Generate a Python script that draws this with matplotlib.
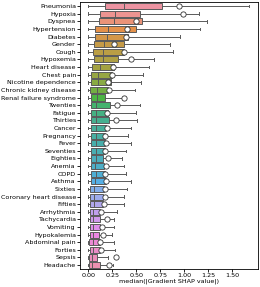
import numpy as np
import matplotlib
matplotlib.use("Agg")
import matplotlib.pyplot as plt
import seaborn as sns

# features, top to bottom
features = ["Pneumonia", "Hypoxia", "Dyspnea", "Hypertension", "Diabetes", "Gender",
            "Cough", "Hypoxemia", "Heart disease", "Chest pain", "Nicotine dependence",
            "Chronic kidney disease", "Renal failure syndrome", "Twenties", "Fatigue",
            "Thirties", "Cancer", "Pregnancy", "Fever", "Seventies", "Eighties", "Anemia",
            "COPD", "Asthma", "Sixties", "Coronary heart disease", "Fifties", "Arrhythmia",
            "Tachycardia", "Vomiting", "Hypokalemia", "Abdominal pain", "Forties", "Sepsis",
            "Headache"]

# box stats
whislo = [0.0, 0.0, 0.0, 0.0, 0.0, 0.0, 0.0, 0.0, 0.0, 0.0, 0.0, 0.0, 0.0, 0.0, 0.0,
          0.0, 0.0, 0.0, 0.0, 0.0, 0.0, 0.0, 0.0, 0.0, 0.0, 0.0, 0.0, 0.0, 0.0, 0.0,
          0.0, 0.0, 0.0, 0.0, 0.0]
q1 = [0.17, 0.125, 0.11, 0.066, 0.066, 0.055, 0.052, 0.062, 0.042, 0.031, 0.031, 0.02,
      0.028, 0.028, 0.024, 0.024, 0.024, 0.024, 0.024, 0.024, 0.028, 0.024, 0.024, 0.024,
      0.014, 0.014, 0.014, 0.014, 0.014, 0.014, 0.014, 0.01, 0.014, 0.01, 0.01]
med = [0.375, 0.28, 0.265, 0.205, 0.195, 0.163, 0.15, 0.15, 0.118, 0.10, 0.10, 0.09,
       0.09, 0.083, 0.08, 0.08, 0.08, 0.08, 0.08, 0.076, 0.076, 0.07, 0.076, 0.066,
       0.063, 0.055, 0.055, 0.05, 0.05, 0.05, 0.05, 0.045, 0.045, 0.04, 0.04]
q3 = [0.77, 0.535, 0.56, 0.50, 0.42, 0.37, 0.375, 0.31, 0.27, 0.243, 0.24, 0.21,
      0.17, 0.23, 0.21, 0.215, 0.187, 0.177, 0.18, 0.17, 0.153, 0.16, 0.17, 0.187,
      0.16, 0.153, 0.153, 0.125, 0.118, 0.118, 0.11, 0.118, 0.125, 0.09, 0.118]
whishi = [1.68, 1.16, 1.24, 1.17, 0.96, 0.85, 0.88, 0.69, 0.63, 0.57, 0.555, 0.49,
          0.36, 0.535, 0.50, 0.51, 0.445, 0.41, 0.445, 0.39, 0.35, 0.37, 0.39, 0.45,
          0.40, 0.375, 0.375, 0.30, 0.27, 0.27, 0.25, 0.27, 0.28, 0.21, 0.26]
mean = [0.95, 0.99, 0.50, 0.406, 0.39, 0.27, 0.375, 0.45, 0.257, 0.25, 0.208, 0.22,
        0.368, 0.30, 0.195, 0.29, 0.195, 0.18, 0.187, 0.175, 0.21, 0.19, 0.18, 0.187,
        0.17, 0.18, 0.16, 0.135, 0.195, 0.142, 0.153, 0.118, 0.13, 0.29, 0.215]

stats = []
for i in range(len(features)):
    stats.append(dict(label=features[i], whislo=whislo[i], q1=q1[i], med=med[i],
                      q3=q3[i], whishi=whishi[i], mean=mean[i], fliers=[]))

colors = sns.color_palette(sns.husl_palette(len(features), l=0.7), desat=0.8)
gray = "#5a5a5a"

fig = plt.figure(figsize=(2.6, 2.87), dpi=100)
ax = fig.add_axes([0.308, 0.063, 0.684, 0.929])

pos = np.arange(len(features))
bp = ax.bxp(stats, positions=pos, vert=False, widths=0.8, patch_artist=True,
            showmeans=True, showfliers=False, capwidths=0.35,
            boxprops=dict(edgecolor=gray, linewidth=0.7),
            whiskerprops=dict(color=gray, linewidth=0.7),
            capprops=dict(color=gray, linewidth=0.7),
            medianprops=dict(color=gray, linewidth=0.7),
            meanprops=dict(marker="o", markerfacecolor="white", markeredgecolor="#333333",
                           markersize=3.8, markeredgewidth=0.6))
for patch, c in zip(bp["boxes"], colors):
    patch.set_facecolor(c)

fs = 4.6
ax.set_yticks(pos)
ax.set_yticklabels(features, fontsize=fs)
ax.set_ylim(len(features) - 0.5, -0.5)
ax.set_xlim(-0.085, 1.77)
ax.set_xticks([0, 0.25, 0.5, 0.75, 1.0, 1.25, 1.5])
ax.set_xticklabels(["0.00", "0.25", "0.50", "0.75", "1.00", "1.25", "1.50"], fontsize=fs)
ax.tick_params(length=2, width=0.6, pad=1)
for s in ax.spines.values():
    s.set_linewidth(0.6)
ax.set_xlabel("median(|Gradient SHAP value|)", fontsize=fs, labelpad=0.5)

fig.savefig("out.png", dpi=100)
